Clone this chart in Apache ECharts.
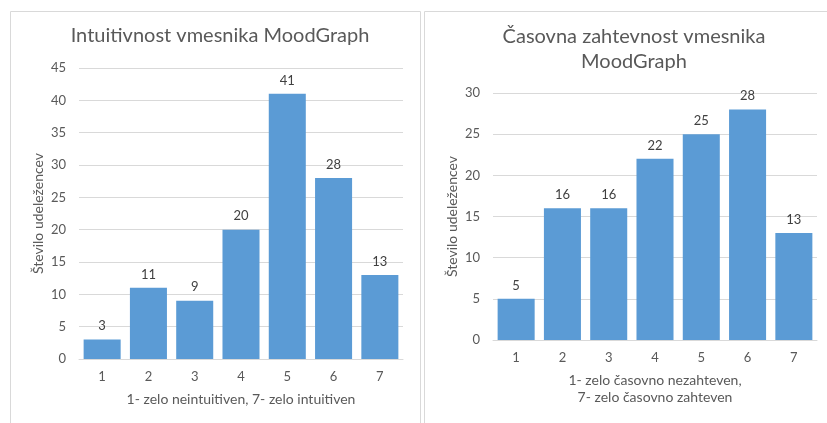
<!DOCTYPE html>
<html>
<head>
<meta charset="utf-8">
<script src="https://cdn.jsdelivr.net/npm/echarts@6/dist/echarts.min.js"></script>
<style>
  html, body { margin: 0; padding: 0; background: #fff; }
  #container { width: 827px; height: 423px; }
</style>
</head>
<body>
<div id="container"></div>
<script>
var categories = ['1', '2', '3', '4', '5', '6', '7'];
var intuitivnost = [3, 11, 9, 20, 41, 28, 13];
var casovna = [5, 16, 16, 22, 25, 28, 13];

var dom = document.getElementById('container');
var myChart = echarts.init(dom, null, { renderer: 'canvas' });

var font = 'Lato, "Open Sans", sans-serif';
var grey = '#595959';
var gridColor = '#d9d9d9';
var barColor = '#5b9bd5';

function xAxisFor(gridIndex, name) {
  return {
    type: 'category',
    gridIndex: gridIndex,
    data: categories,
    name: name,
    nameLocation: 'middle',
    nameGap: 32,
    nameTextStyle: { color: grey, fontSize: 14, fontFamily: font, lineHeight: 17 },
    axisLine: { lineStyle: { color: gridColor } },
    axisTick: { show: false },
    axisLabel: { color: grey, fontSize: 13, fontFamily: font, margin: 11 }
  };
}

function yAxisFor(gridIndex, max) {
  return {
    type: 'value',
    gridIndex: gridIndex,
    min: 0,
    max: max,
    interval: 5,
    name: 'Število udeležencev',
    nameLocation: 'middle',
    nameGap: 34,
    nameTextStyle: { color: grey, fontSize: 14, fontFamily: font },
    axisLine: { show: false },
    axisTick: { show: false },
    splitLine: { lineStyle: { color: gridColor } },
    axisLabel: { color: grey, fontSize: 13, fontFamily: font, margin: 13 }
  };
}

function barSeries(index, data) {
  return {
    type: 'bar',
    xAxisIndex: index,
    yAxisIndex: index,
    data: data,
    barCategoryGap: '20%',
    itemStyle: { color: barColor },
    label: {
      show: true,
      position: 'top',
      distance: 7,
      color: '#404040',
      fontSize: 13,
      fontFamily: font
    }
  };
}

var option = {
  animation: false,
  title: [
    {
      text: 'Intuitivnost vmesnika MoodGraph',
      left: 215,
      top: 21,
      textAlign: 'center',
      textStyle: { color: grey, fontSize: 20, fontWeight: 'normal', fontFamily: font }
    },
    {
      text: 'Časovna zahtevnost vmesnika\nMoodGraph',
      left: 629,
      top: 19,
      textAlign: 'center',
      textStyle: { color: grey, fontSize: 20, fontWeight: 'normal', fontFamily: font, lineHeight: 25 }
    }
  ],
  graphic: [
    { type: 'rect', shape: { x: 10.5, y: 11.5, width: 410, height: 430 }, style: { fill: 'none', stroke: gridColor } },
    { type: 'rect', shape: { x: 424.5, y: 11.5, width: 410, height: 430 }, style: { fill: 'none', stroke: gridColor } }
  ],
  grid: [
    { left: 79, right: 424, top: 68, bottom: 64 },
    { left: 493, right: 10, top: 93, bottom: 83 }
  ],
  xAxis: [
    xAxisFor(0, '1- zelo neintuitiven, 7- zelo intuitiven'),
    xAxisFor(1, '1- zelo časovno nezahteven,\n7- zelo časovno zahteven')
  ],
  yAxis: [
    yAxisFor(0, 45),
    yAxisFor(1, 30)
  ],
  series: [
    barSeries(0, intuitivnost),
    barSeries(1, casovna)
  ]
};

myChart.setOption(option);
window.addEventListener('resize', myChart.resize);
</script>
</body>
</html>
